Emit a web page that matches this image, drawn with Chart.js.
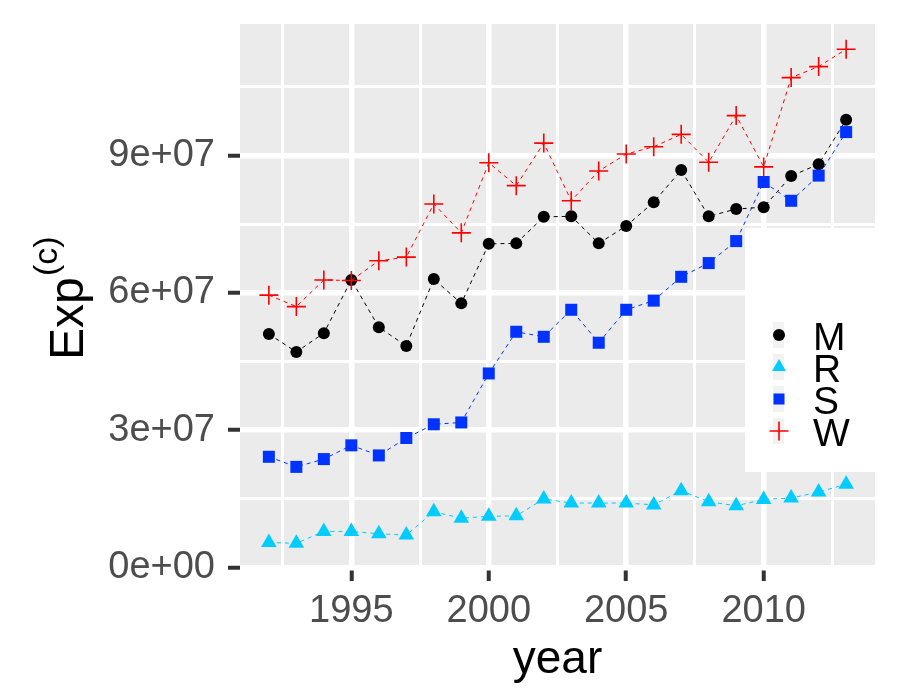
<!DOCTYPE html>
<html>
<head>
<meta charset="utf-8">
<script src="https://cdn.jsdelivr.net/npm/chart.js@4/dist/chart.umd.min.js"></script>
<style>
  body { margin: 0; background: #fff; }
  canvas { display: block; }
</style>
</head>
<body>
<canvas id="plot" width="900" height="700"></canvas>
<script>
const years = [1992, 1993, 1994, 1995, 1996, 1997, 1998, 1999, 2000, 2001, 2002,
  2003, 2004, 2005, 2006, 2007, 2008, 2009, 2010, 2011, 2012, 2013];

const seriesM = [5.10e7, 4.71e7, 5.12e7, 6.28e7, 5.25e7, 4.84e7, 6.30e7, 5.77e7, 7.07e7, 7.08e7, 7.66e7,
  7.67e7, 7.08e7, 7.46e7, 7.98e7, 8.68e7, 7.67e7, 7.83e7, 7.87e7, 8.55e7, 8.81e7, 9.78e7];
const seriesR = [0.55e7, 0.53e7, 0.79e7, 0.79e7, 0.74e7, 0.71e7, 1.22e7, 1.08e7, 1.12e7, 1.13e7, 1.50e7,
  1.41e7, 1.41e7, 1.41e7, 1.37e7, 1.68e7, 1.44e7, 1.35e7, 1.49e7, 1.52e7, 1.65e7, 1.82e7];
const seriesS = [2.42e7, 2.20e7, 2.37e7, 2.67e7, 2.45e7, 2.83e7, 3.13e7, 3.17e7, 4.24e7, 5.15e7, 5.04e7,
  5.63e7, 4.91e7, 5.63e7, 5.83e7, 6.35e7, 6.65e7, 7.13e7, 8.42e7, 8.01e7, 8.56e7, 9.51e7];
const seriesW = [5.95e7, 5.70e7, 6.28e7, 6.27e7, 6.70e7, 6.78e7, 7.94e7, 7.31e7, 8.84e7, 8.34e7, 9.27e7,
  8.01e7, 8.66e7, 9.03e7, 9.19e7, 9.46e7, 8.85e7, 9.87e7, 8.75e7, 10.70e7, 10.94e7, 11.32e7];

const seriesNames = ["M", "R", "S", "W"];

const xMajor = [1995, 2000, 2005, 2010];
const xMinor = [1992.5, 1997.5, 2002.5, 2007.5, 2012.5];
const yMajor = [0, 3e7, 6e7, 9e7];
const yMajorLabels = ["0e+00", "3e+07", "6e+07", "9e+07"];
const yMinor = [1.5e7, 4.5e7, 7.5e7, 10.5e7];

const colors = { M: "#000000", R: "#00CCFF", S: "#0033FF", W: "#FF0000" };
const shapes = {
  M: { style: "circle", r: 6, bw: 0 },
  R: { style: "triangle", r: 9, bw: 0 },
  S: { style: "rect", r: 8.5, bw: 0 },
  W: { style: "cross", r: 9.5, bw: 1.6 },
};

const toPoints = (vals) => years.map((y, i) => ({ x: y, y: vals[i] }));

const makeDataset = (name, vals, order) => ({
  label: name,
  data: toPoints(vals),
  borderColor: colors[name],
  backgroundColor: colors[name],
  borderWidth: 1,
  borderDash: [4, 4],
  pointStyle: shapes[name].style,
  pointRadius: shapes[name].r,
  pointBorderWidth: shapes[name].bw,
  pointBackgroundColor: colors[name],
  pointBorderColor: colors[name],
  order: order,
});

// grey panel behind grid
const panelBg = {
  id: "panelBg",
  beforeDraw(chart) {
    const { ctx, chartArea: a } = chart;
    ctx.save();
    ctx.fillStyle = "#fff";
    ctx.fillRect(0, 0, chart.width, chart.height);
    ctx.fillStyle = "#EBEBEB";
    ctx.fillRect(a.left, a.top, a.right - a.left, a.bottom - a.top);
    ctx.restore();
  },
};

// legend box inside the panel
const insideLegend = {
  id: "insideLegend",
  beforeDatasetsDraw(chart) {
    const { ctx, chartArea: a } = chart;
    ctx.save();
    ctx.fillStyle = "#fff";
    ctx.fillRect(745, 228, a.right - 745, 244);
    seriesNames.forEach((name, i) => {
      const cy = 335 + i * 32;
      ctx.fillStyle = "#F2F2F2";
      ctx.fillRect(773, cy - 13, 11, 26);
      ctx.fillStyle = colors[name];
      ctx.strokeStyle = colors[name];
      ctx.lineWidth = shapes[name].bw || 1;
      Chart.helpers.drawPoint(ctx, {
        pointStyle: shapes[name].style,
        radius: name === "R" ? 8 : name === "S" ? 7.8 : shapes[name].r,
        borderWidth: shapes[name].bw,
        rotation: 0,
      }, 779, cy);
      ctx.fillStyle = "#000";
      ctx.font = "39px 'Liberation Sans', Arial, sans-serif";
      ctx.textAlign = "left";
      ctx.textBaseline = "alphabetic";
      ctx.fillText(name, 813, cy + 15);
    });
    ctx.restore();
  },
};

// axis titles
const axisTitles = {
  id: "axisTitles",
  afterDraw(chart) {
    const { ctx, chartArea: a } = chart;
    ctx.save();
    ctx.fillStyle = "#000";
    ctx.textBaseline = "alphabetic";
    ctx.font = "46px 'Liberation Sans', Arial, sans-serif";
    ctx.textAlign = "center";
    ctx.fillText("year", (a.left + a.right) / 2, 673);

    ctx.textAlign = "left";
    ctx.save();
    ctx.translate(83, 360);
    ctx.rotate(-Math.PI / 2);
    ctx.font = "48px 'Liberation Sans', Arial, sans-serif";
    ctx.fillText("Exp", 0, 0);
    ctx.restore();
    ctx.save();
    ctx.translate(57, 276);
    ctx.rotate(-Math.PI / 2);
    ctx.font = "34px 'Liberation Sans', Arial, sans-serif";
    ctx.fillText("(c)", 0, 0);
    ctx.restore();
    ctx.restore();
  },
};

const isMajor = (list, v) => list.some((m) => Math.abs(m - v) < 1e-6 * Math.max(1, Math.abs(m)));

new Chart(document.getElementById("plot"), {
  type: "line",
  data: {
    datasets: [
      makeDataset("M", seriesM, 4),
      makeDataset("R", seriesR, 3),
      makeDataset("S", seriesS, 2),
      makeDataset("W", seriesW, 1),
    ],
  },
  options: {
    responsive: false,
    animation: false,
    devicePixelRatio: 1,
    layout: { padding: { top: 24, right: 25, left: 0, bottom: 0 } },
    plugins: { legend: { display: false }, tooltip: { enabled: false } },
    scales: {
      x: {
        type: "linear",
        min: 1990.95,
        max: 2014.05,
        afterBuildTicks: (scale) => {
          scale.ticks = [...xMinor, ...xMajor].sort((p, q) => p - q).map((v) => ({ value: v }));
        },
        afterFit: (scale) => {
          scale.height = 131;
          scale.paddingLeft = 0;
          scale.paddingRight = 0;
        },
        border: { display: false },
        grid: {
          color: "#fff",
          lineWidth: (c) => (isMajor(xMajor, c.tick.value) ? 5.5 : 3),
          tickLength: 12,
          tickWidth: 4,
          tickColor: (c) => (isMajor(xMajor, c.tick.value) ? "#333333" : "rgba(0,0,0,0)"),
        },
        ticks: {
          autoSkip: false,
          maxRotation: 0,
          padding: 8,
          color: "#4D4D4D",
          font: { family: "'Liberation Sans', Arial, sans-serif", size: 38 },
          callback: (v) => (isMajor(xMajor, v) ? String(v) : ""),
        },
      },
      y: {
        type: "linear",
        min: -0.03e7,
        max: 11.87e7,
        afterBuildTicks: (scale) => {
          scale.ticks = [...yMinor, ...yMajor].sort((p, q) => p - q).map((v) => ({ value: v }));
        },
        afterFit: (scale) => {
          scale.width = 240;
          scale.paddingTop = 0;
          scale.paddingBottom = 0;
        },
        border: { display: false },
        grid: {
          color: "#fff",
          lineWidth: (c) => (isMajor(yMajor, c.tick.value) ? 5.5 : 3),
          tickLength: 12,
          tickWidth: 4,
          tickColor: (c) => (isMajor(yMajor, c.tick.value) ? "#333333" : "rgba(0,0,0,0)"),
        },
        ticks: {
          autoSkip: false,
          padding: 13,
          color: "#4D4D4D",
          font: { family: "'Liberation Sans', Arial, sans-serif", size: 38 },
          callback: (v) => {
            const i = yMajor.findIndex((m) => Math.abs(m - v) < 1);
            return i >= 0 ? yMajorLabels[i] : "";
          },
        },
      },
    },
  },
  plugins: [panelBg, insideLegend, axisTitles],
});
</script>
</body>
</html>
